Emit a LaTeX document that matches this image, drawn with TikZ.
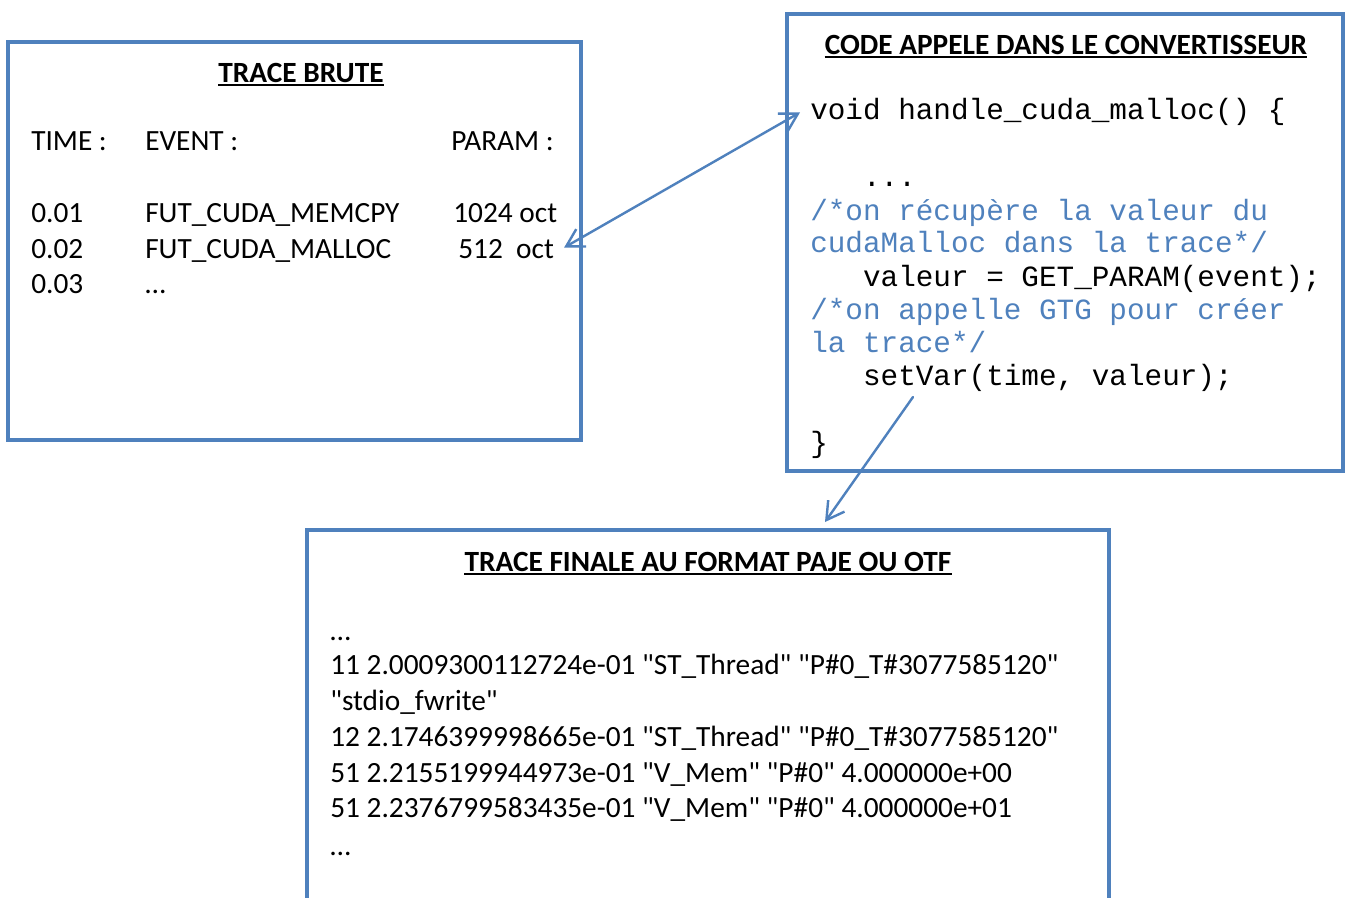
\documentclass[tikz,border=0pt]{standalone}
\usepackage{fontspec}
\setmainfont{Carlito}[Ligatures=TeXOff]
\newfontfamily\codefont{Liberation Mono}
\usetikzlibrary{arrows.meta}
\definecolor{obl}{HTML}{4F81BD}
\definecolor{cmtc}{HTML}{4F81BD}
\begin{document}
\begin{tikzpicture}[x=0.75pt,y=-0.75pt,
 box/.style={draw=obl,line width=3.2pt},
 txt/.style={anchor=base west,inner sep=0pt,font=\fontsize{22}{26}\selectfont},
 ttl/.style={anchor=base,inner sep=0pt,font=\fontsize{22}{26}\selectfont\bfseries},
 ul/.style={line width=1.5pt},
 code/.style={anchor=base west,inner sep=0pt,font=\codefont\fontsize{22}{25}\selectfont},
 cmt/.style={code,text=cmtc},
 conn/.style={draw=obl,line width=1.8pt,line cap=round,line join=round},
 tip/.tip={Straight Barb[length=13pt,width=15pt,line join=miter]}]
\useasboundingbox (0,0) rectangle (1349,897);
\clip (0,0) rectangle (1349,897);
\fill[white] (0,0) rectangle (1349,897);
% boxes
\draw[box] (8,42) rectangle (581,440);
\draw[box] (787,14) rectangle (1343,471);
\draw[box] (307,530) rectangle (1109,920);
% box 1
\node[ttl] (t1) at (301,82) {TRACE BRUTE};
\draw[ul] ([yshift=-2.6pt]t1.base west) -- ([yshift=-2.6pt]t1.base east);
\node[txt] (h1) at (31,150) {TIME :};
\node[txt] (h2) at (145,150) {EVENT :};
\node[txt] (h3) at (451,150) {PARAM :};
\node[txt] (r11) at (31,222) {0.01};
\node[txt] (r12) at (145,222) {FUT\_CUDA\_MEMCPY};
\node[txt] (r13) at (453,222) {1024 oct};
\node[txt] (r21) at (31,258) {0.02};
\node[txt] (r22) at (145,258) {FUT\_CUDA\_MALLOC};
\node[txt] (r23) at (458,258) {512~~oct};
\node[txt] (r31) at (31,293) {0.03};
\node[txt] (r32) at (145,293) {…};
% box 2
\node[ttl] (t2) at (1066,54) {CODE APPELE DANS LE CONVERTISSEUR};
\draw[ul] ([yshift=-2.6pt]t2.base west) -- ([yshift=-2.6pt]t2.base east);
\node[code] (c1) at (810,119) {void handle\_cuda\_malloc() \{};
\node[code] (c2) at (810,186) {\ \ \ ...};
\node[cmt] (c3) at (810,220) {/*on récupère la valeur du};
\node[cmt] (c4) at (810,252) {cudaMalloc dans la trace*/};
\node[code] (c5) at (810,286) {\ \ \ valeur = GET\_PARAM(event);};
\node[cmt] (c6) at (810,319) {/*on appelle GTG pour créer};
\node[cmt] (c7) at (810,352) {la trace*/};
\node[code] (c8) at (810,385) {\ \ \ setVar(time, valeur);};
\node[code] (c9) at (810,452) {\}};
% box 3
\node[ttl] (t3) at (708,571) {TRACE FINALE AU FORMAT PAJE OU OTF};
\draw[ul] ([yshift=-2.6pt]t3.base west) -- ([yshift=-2.6pt]t3.base east);
\node[txt] (f0) at (330,640) {…};
\node[txt] (f1) at (330,674) {11 2.0009300112724e-01 "ST\_Thread" "P\#0\_T\#3077585120"};
\node[txt] (f2) at (330,710) {"stdio\_fwrite"};
\node[txt] (f3) at (330,746) {12 2.1746399998665e-01 "ST\_Thread" "P\#0\_T\#3077585120"};
\node[txt] (f4) at (330,782) {51 2.2155199944973e-01 "V\_Mem" "P\#0" 4.000000e+00};
\node[txt] (f5) at (330,817) {51 2.2376799583435e-01 "V\_Mem" "P\#0" 4.000000e+01};
\node[txt] (f6) at (330,855) {…};
% connectors
\coordinate (a1) at ([xshift=10*0.75pt,yshift=1*0.75pt]r23.east);
\coordinate (a2) at ([xshift=-10*0.75pt,yshift=-1*0.75pt]c1.west);
\draw[conn,{tip}-{tip}] (a1) -- (a2);
\coordinate (b1) at (913,397);
\coordinate (b2) at (825,522);
\draw[conn,-{tip}] (b1) -- (b2);
\end{tikzpicture}
\end{document}
